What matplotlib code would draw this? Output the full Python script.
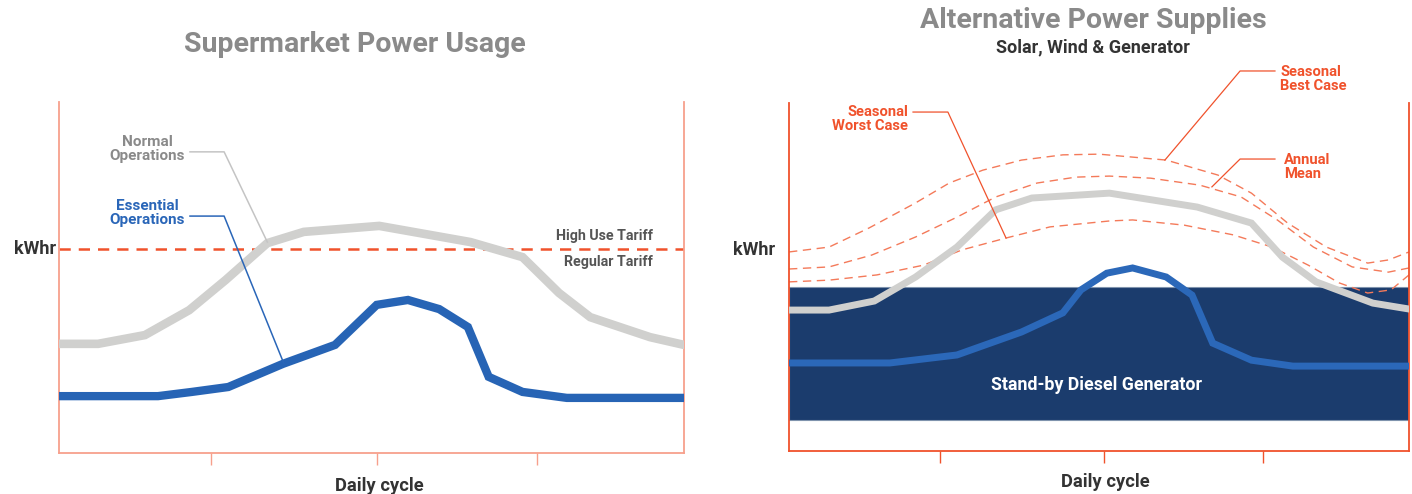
import matplotlib.pyplot as plt

plt.rcParams['font.family'] = ['Roboto', 'DejaVu Sans']

# Left chart: supermarket demand over a day (hours, relative kWhr)
normal_x = [0, 1.5, 3.3, 5.0, 6.4, 8.0, 9.4, 12.3, 15.8, 17.8, 19.2, 20.4, 22.7, 24]
normal_y = [31.1, 31.1, 33.6, 40.7, 49.3, 59.8, 63.0, 64.7, 60.1, 55.8, 45.6, 38.7, 33.0, 30.8]
essential_x = [0, 3.8, 5.1, 6.5, 8.6, 10.6, 12.2, 13.4, 14.6, 15.7, 16.5, 17.8, 19.5, 24]
essential_y = [16.2, 16.2, 17.4, 18.8, 25.4, 30.8, 42.2, 43.6, 41.0, 35.9, 21.7, 17.4, 15.7, 15.7]
tariff_level = 58.1

# Right chart: the same loads against alternative supply
alt_normal_x = [0, 1.55, 3.3, 4.9, 6.5, 8.0, 9.4, 12.4, 15.8, 17.9, 19.1, 20.4, 22.6, 24]
alt_normal_y = [40.5, 40.5, 43.1, 50.0, 58.6, 69.3, 72.7, 74.1, 70.1, 65.5, 55.7, 48.6, 42.5, 40.8]
alt_essential_x = [0, 3.9, 6.5, 9.0, 10.6, 11.3, 12.3, 13.3, 14.6, 15.6, 16.4, 17.9, 19.5, 24]
alt_essential_y = [25.3, 25.3, 27.6, 34.2, 39.7, 46.3, 51.1, 52.6, 50.0, 44.8, 31.0, 26.1, 24.4, 24.4]

best_x = [0, 1.55, 3.1, 4.9, 6.2, 7.5, 9.0, 10.6, 12.0, 14.6, 16.6, 17.9, 19.3, 20.8, 22.4, 23.2, 24]
best_y = [57.2, 58.6, 64.1, 71.3, 77.0, 80.7, 83.6, 85.1, 85.3, 83.6, 79.3, 74.1, 65.5, 58.6, 54.0, 54.9, 57.2]
mean_x = [0, 1.55, 3.2, 4.9, 6.5, 8.0, 9.6, 11.1, 12.4, 14.0, 15.9, 17.5, 18.9, 20.3, 21.8, 23.2, 24]
mean_y = [52.3, 52.9, 56.3, 61.5, 67.2, 73.0, 77.0, 78.7, 79.0, 78.4, 76.4, 73.0, 66.4, 58.6, 52.9, 51.4, 52.6]
worst_x = [0, 1.55, 3.4, 5.2, 6.7, 8.4, 10.1, 12.4, 13.3, 15.3, 17.2, 18.7, 20.1, 21.3, 22.4, 23.3, 24]
worst_y = [48.6, 49.1, 50.6, 53.4, 57.8, 61.2, 64.4, 66.1, 66.4, 64.9, 62.1, 58.6, 53.4, 48.3, 45.4, 46.3, 50.6]
generator_band = (8.9, 47.1)

cycle_ticks = [5.85, 12.2, 18.35]

GRAY_LINE = '#d0d0ce'
BLUE_LINE = '#2764b5'
NAVY = '#1b3c6d'
RED = '#f0522c'
SALMON = '#f7a08c'
DARK = '#333333'
TITLE_GRAY = '#8a8a8a'

fig = plt.figure(figsize=(14.12, 4.94), dpi=100)
ax1 = fig.add_axes([0.0418, 0.0830, 0.4426, 0.7105])
ax2 = fig.add_axes([0.5588, 0.0870, 0.4391, 0.7045])


def frame(ax, color):
    ax.set_xlim(0, 24)
    ax.set_ylim(0, 100)
    ax.spines['top'].set_visible(False)
    for s in ['left', 'right', 'bottom']:
        ax.spines[s].set_color(color)
        ax.spines[s].set_linewidth(1.3)
    ax.set_yticks([])
    ax.set_xticks(cycle_ticks)
    ax.set_xticklabels([])
    ax.tick_params(axis='x', length=8.6, width=1.0, color=color, direction='out')


# ---- Supermarket Power Usage ----
frame(ax1, SALMON)
ax1.axhline(tariff_level, color=RED, lw=1.8, ls=(0, (4.5, 3.2)), zorder=2)
ax1.plot(normal_x, normal_y, color=GRAY_LINE, lw=6.2, solid_joinstyle='miter', zorder=3)
ax1.plot(essential_x, essential_y, color=BLUE_LINE, lw=6, solid_joinstyle='miter', zorder=4)

ax1.text(22.8, 61.8, 'High Use Tariff', ha='right', va='center', fontsize=10.3, fontweight='bold', color='#555555')
ax1.text(22.8, 54.4, 'Regular Tariff', ha='right', va='center', fontsize=10.3, fontweight='bold', color='#555555')

ax1.text(4.85, 86.6, 'Normal\nOperations', ha='right', va='center', fontsize=11, fontweight='bold',
         color=TITLE_GRAY, multialignment='center', linespacing=1.0)
ax1.plot([5.03, 6.34, 8.0], [85.8, 85.8, 60.1], color='#c4c4c4', lw=1.1, zorder=5)
ax1.text(4.85, 68.4, 'Essential\nOperations', ha='right', va='center', fontsize=11, fontweight='bold',
         color='#2a66b8', multialignment='center', linespacing=1.0)
ax1.plot([5.03, 6.34, 8.64], [67.5, 67.5, 25.4], color='#2a66b8', lw=1.1, zorder=5)

ax1.text(-0.038, tariff_level, 'kWhr', transform=ax1.get_yaxis_transform(), ha='center', va='center',
         fontsize=13, fontweight='bold', color=DARK)
ax1.text(0.512, -0.094, 'Daily cycle', transform=ax1.transAxes, ha='center', va='center',
         fontsize=13.2, fontweight='bold', color=DARK)
fig.text(355 / 1412, 1 - 45 / 494, 'Supermarket Power Usage', ha='center', va='center',
         fontsize=20.5, fontweight='bold', color=TITLE_GRAY)

# ---- Alternative Power Supplies ----
frame(ax2, RED)
ax2.axhspan(*generator_band, facecolor=NAVY, edgecolor='#7f93ad', lw=0.8, zorder=1)
for cx, cy in [(best_x, best_y), (mean_x, mean_y), (worst_x, worst_y)]:
    ax2.plot(cx, cy, color='#f47a5a', lw=1.0, ls=(0, (6, 4)), zorder=2)
ax2.plot(alt_normal_x, alt_normal_y, color=GRAY_LINE, lw=5, solid_joinstyle='miter', zorder=3)
ax2.plot(alt_essential_x, alt_essential_y, color='#2b68b9', lw=5, solid_joinstyle='miter', zorder=4)
ax2.text(11.92, 19.0, 'Stand-by Diesel Generator', ha='center', va='center', fontsize=12.8,
         fontweight='bold', color='white', zorder=5)

ax2.text(4.61, 95.3, 'Seasonal\nWorst Case', ha='right', va='center', fontsize=10.6, fontweight='bold',
         color=RED, multialignment='right', linespacing=1.0)
ax2.plot([4.80, 6.15, 8.40], [97.4, 97.4, 61.2], color=RED, lw=0.9, zorder=5)
ax2.text(19.01, 107.0, 'Seasonal\nBest Case', ha='left', va='center', fontsize=10.6, fontweight='bold',
         color=RED, linespacing=1.0, clip_on=False)
ax2.plot([18.81, 17.46, 14.55], [109.2, 109.2, 83.6], color=RED, lw=0.9, zorder=5, clip_on=False)
ax2.text(19.16, 81.6, 'Annual\nMean', ha='left', va='center', fontsize=10.6, fontweight='bold',
         color=RED, linespacing=1.0)
ax2.plot([18.81, 17.46, 16.37], [83.9, 83.9, 75.9], color=RED, lw=0.9, zorder=5)

ax2.text(-0.056, 57.8, 'kWhr', transform=ax2.get_yaxis_transform(), ha='center', va='center',
         fontsize=13, fontweight='bold', color=DARK)
ax2.text(0.51, -0.089, 'Daily cycle', transform=ax2.transAxes, ha='center', va='center',
         fontsize=13.2, fontweight='bold', color=DARK)
fig.text(1093 / 1412, 1 - 20 / 494, 'Alternative Power Supplies', ha='center', va='center',
         fontsize=20.5, fontweight='bold', color=TITLE_GRAY)
fig.text(1093 / 1412, 1 - 47 / 494, 'Solar, Wind & Generator', ha='center', va='center',
         fontsize=13, fontweight='bold', color=DARK)

fig.savefig('out.png', dpi=100)
